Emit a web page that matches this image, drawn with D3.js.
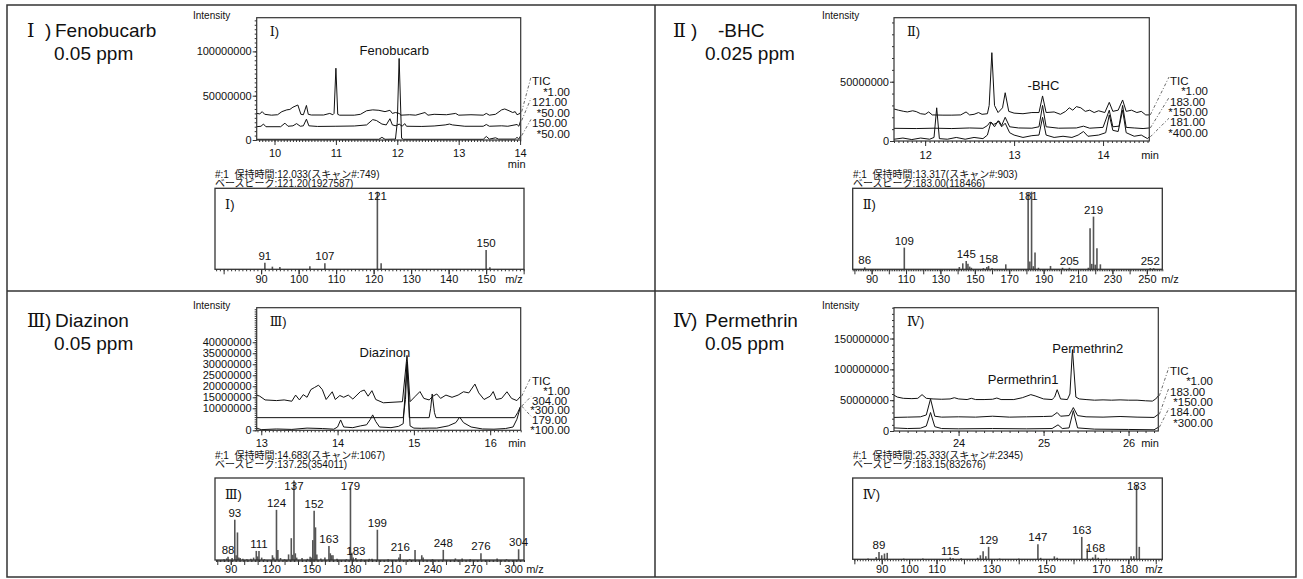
<!DOCTYPE html>
<html>
<head>
<meta charset="utf-8">
<script src="https://cdn.jsdelivr.net/npm/d3@7"></script>
<style>
body { margin: 0; background: #fff; }
svg text { font-family: "Liberation Sans", Arial, "Noto Sans CJK JP", sans-serif; fill: #111; }
.rn { font-family: "Liberation Serif", "DejaVu Serif", serif; }
</style>
</head>
<body>
<svg id="chart" width="1303" height="579"></svg>
<script>
const MEGA = 1e6;

// chromatogram traces: [retention time (min), intensity (x1e6)]
const fenoTIC = [[9.71,30],[9.76,29.5],[9.8,32],[9.84,29],[9.95,28],[10.05,28.5],[10.12,32],[10.2,34],[10.25,34.5],[10.3,37],[10.38,39.5],[10.43,29],[10.47,28.5],[10.52,39],[10.55,29],[10.6,28.2],[10.8,28.2],[10.9,30],[10.95,28.5],[10.97,30],[11.0,81],[11.03,29],[11.06,28],[11.3,28],[11.4,29],[11.5,33],[11.6,34],[11.7,33.5],[11.8,32],[11.88,33.5],[11.92,30],[11.97,31],[12.03,30],[12.06,28],[12.2,28.5],[12.3,28],[12.45,31],[12.5,28],[12.6,29],[12.8,28.5],[12.95,30],[13.0,28],[13.2,28.5],[13.4,28],[13.45,30],[13.5,28],[13.6,29],[13.7,34],[13.75,35],[13.82,33],[13.88,31],[13.92,32],[13.95,28.5],[14.0,30],[14.01,32]];
const feno121 = [[9.71,15],[9.78,15.5],[9.82,18],[9.86,15],[10.1,15],[10.17,19],[10.22,15.5],[10.3,16],[10.36,18.5],[10.42,15.5],[10.47,16],[10.52,23.5],[10.56,16],[10.7,15.3],[11.0,15.5],[11.3,15.8],[11.5,17],[11.6,23],[11.66,22],[11.75,18],[11.82,17],[11.88,24],[11.92,17],[11.98,16],[12.03,18],[12.08,15.5],[12.12,18.5],[12.15,15.5],[12.4,15.3],[12.6,15.8],[12.78,17],[12.85,18],[12.9,17],[13.1,15.5],[13.4,15.5],[13.45,17.5],[13.5,15.5],[13.7,16],[13.8,15.5],[13.95,17.5],[13.98,15.5],[14.01,22]];
const feno150 = [[9.71,0.8],[11.7,0.8],[11.75,3],[11.8,0.8],[11.97,1],[12.0,20],[12.03,92],[12.07,2],[12.1,0.8],[13.4,0.8],[13.45,4],[13.5,1],[13.6,2.5],[13.65,1],[13.92,1],[13.95,3],[13.98,1],[14.01,5]];

const bhcTIC = [[11.65,27],[11.7,26],[11.76,25],[11.8,24.5],[11.86,25.5],[11.9,24.8],[11.95,23],[12.0,22.5],[12.04,24.5],[12.08,22],[12.2,21.8],[12.3,21.8],[12.4,22],[12.46,24.5],[12.5,22],[12.55,22.5],[12.6,24],[12.64,22.5],[12.7,23],[12.72,30],[12.75,74.5],[12.78,30],[12.82,24],[12.87,28],[12.9,40.7],[12.94,25],[13.0,23.5],[13.1,23],[13.2,24],[13.28,24],[13.32,38],[13.36,24],[13.45,24.5],[13.52,22.5],[13.58,25],[13.62,28],[13.66,26],[13.7,29],[13.75,28],[13.8,25],[13.85,26],[13.9,24],[13.95,25.5],[14.02,24],[14.07,32.6],[14.11,25],[14.17,26],[14.22,34.6],[14.26,25],[14.32,26],[14.38,24],[14.43,25],[14.48,22],[14.52,22]];
const bhc183 = [[11.65,10.7],[11.9,10.5],[12.1,10.8],[12.3,10.5],[12.5,11],[12.65,10.7],[12.7,13],[12.73,16],[12.77,14],[12.8,15],[12.83,17],[12.86,13],[12.9,20],[12.95,12],[13.05,11],[13.2,10.8],[13.28,12],[13.32,30],[13.36,12],[13.5,10.8],[13.7,11],[13.78,12.5],[13.85,10.8],[14.0,11.5],[14.07,26],[14.11,12],[14.18,12.5],[14.22,30],[14.26,11.5],[14.35,11],[14.45,10.5],[14.52,11]];
const bhc181 = [[11.65,1.5],[11.75,2.5],[11.85,1.2],[11.95,2.5],[12.05,1.5],[12.1,3],[12.13,28],[12.16,2],[12.25,1.5],[12.35,3],[12.45,1.5],[12.55,3],[12.65,2],[12.7,5],[12.74,16],[12.78,12],[12.82,17],[12.86,12],[12.9,15],[12.95,7],[13.0,5],[13.1,3],[13.2,4.5],[13.28,5],[13.32,20],[13.36,5],[13.45,3],[13.55,4],[13.65,3],[13.72,5],[13.78,8],[13.83,4],[13.95,5],[14.03,7],[14.07,22],[14.11,9],[14.17,8],[14.22,26],[14.26,7],[14.35,4],[14.43,5],[14.5,2],[14.52,3.5]];

const diazTIC = [[12.94,16],[12.98,15.5],[13.05,13.8],[13.2,13.5],[13.3,13.8],[13.4,13.2],[13.45,16],[13.5,13.8],[13.55,16.2],[13.6,15],[13.65,18.5],[13.7,19.5],[13.75,20.5],[13.8,18.5],[13.85,14],[13.93,17.5],[13.97,14],[14.03,15.8],[14.08,15],[14.14,16],[14.2,14.2],[14.3,17.6],[14.35,18.3],[14.4,15.5],[14.45,18],[14.5,14],[14.6,12.5],[14.85,13],[14.91,34],[14.95,13],[15.02,15.5],[15.08,17.6],[15.13,14.5],[15.2,13.8],[15.25,15.5],[15.3,16.5],[15.35,14.5],[15.42,16],[15.5,15],[15.58,16],[15.65,17.5],[15.72,17],[15.8,21],[15.85,17],[15.92,14],[16.0,15.5],[16.04,17.6],[16.08,14],[16.15,14.5],[16.22,17.5],[16.28,14.5],[16.35,13.5],[16.4,15.5]];
const diaz304 = [[12.94,5.75],[14.86,5.75],[14.89,14],[14.91,30],[14.94,5.75],[15.2,5.75],[15.22,10],[15.24,16.5],[15.27,8],[15.29,5.75],[16.32,5.75],[16.36,8],[16.4,11]];
const diaz179 = [[12.94,1],[13.0,0.3],[13.2,0.6],[13.4,0.4],[13.6,1.0],[13.8,0.8],[13.95,0.5],[14.0,1.5],[14.04,4.7],[14.08,1.5],[14.2,1.2],[14.3,2],[14.38,2.5],[14.43,5],[14.46,7],[14.5,4],[14.55,1.5],[14.7,1.2],[14.8,1.8],[14.86,3],[14.91,31],[14.95,2],[15.0,1],[15.1,0.9],[15.2,1],[15.3,1],[15.45,2],[15.55,3.5],[15.6,6],[15.65,3.5],[15.75,1.5],[15.9,0.6],[16.05,0.5],[16.2,0.8],[16.3,1.5],[16.35,5],[16.4,11]];

const permTIC = [[23.24,58],[23.28,55],[23.35,53],[23.45,52.5],[23.52,53],[23.57,59],[23.62,53],[23.7,52],[23.8,51.5],[23.9,52],[23.95,54],[24.0,52],[24.1,51],[24.15,53],[24.2,51],[24.3,51],[24.4,51.5],[24.45,53.5],[24.5,51],[24.65,51],[24.75,54],[24.85,59],[24.9,57],[25.0,52],[25.1,51],[25.13,55],[25.16,67],[25.2,52],[25.28,51],[25.31,60],[25.34,132],[25.38,55],[25.42,52],[25.5,51],[25.6,50],[25.7,50.5],[25.8,50],[25.9,50.5],[26.0,50],[26.1,50],[26.2,49],[26.28,48.5],[26.32,52],[26.35,57]];
const perm183 = [[23.24,22],[23.4,22.5],[23.55,23],[23.62,26],[23.67,52],[23.72,24],[23.8,22.5],[24.0,23],[24.2,22.5],[24.4,24],[24.6,22.5],[24.8,23],[25.0,23.5],[25.1,24],[25.16,30],[25.2,24],[25.3,25],[25.35,38],[25.4,25],[25.5,23],[25.7,22.5],[25.9,23.5],[26.1,22.5],[26.3,22],[26.35,27]];
const perm184 = [[23.24,5],[23.4,4],[23.55,4.5],[23.62,8],[23.67,30],[23.72,7],[23.8,4],[24.0,3.5],[24.4,4],[24.8,3.5],[25.1,4],[25.17,10],[25.22,4],[25.3,5],[25.35,33],[25.4,5],[25.6,3],[26.0,2.5],[26.3,2],[26.35,6]];

// trace names / scale factors shown right of each chromatogram
const fenoTraceNames = ['TIC', '*1.00', '121.00', '*50.00', '150.00', '*50.00'];
const bhcTraceNames = ['TIC', '*1.00', '183.00', '*150.00', '181.00', '*400.00'];
const diazTraceNames = ['TIC', '*1.00', '304.00', '*300.00', '179.00', '*100.00'];
const permTraceNames = ['TIC', '*1.00', '183.00', '*150.00', '184.00', '*300.00'];

// mass spectra: [m/z, relative intensity %]
const fenoSpec = [[91,8.6],[93,3.4],[95,3],[103,4],[107,7.7],[121,100],[122,7.7],[150,25],[151,2.6]];
const bhcSpec = [[86,2.6],[109,28],[141,3],[143,7.7],[145,10.7],[146,7],[147,3.5],[148,2],[155,1.5],[157,3],[158,4.3],[160,1.5],[168,6.4],[181,98],[182,10],[183,100],[184,4],[185,21.5],[187,2],[194,4.3],[201,2],[205,2],[216,2],[217,52.8],[218,7],[219,67.9],[220,6],[221,27],[223,6.4],[252,1.5],[254,1.5]];
const diazSpec = [[85,1],[87,2],[88,4],[91,2.5],[93,50.6],[94,6],[95,34.6],[96,3],[97,2.5],[99,1.5],[102,1],[105,1.5],[107,3],[109,11.4],[110,4.5],[111,11.4],[113,3],[115,1],[121,6],[122,3],[124,63],[125,12.7],[127,2.5],[130,1],[133,7],[135,27.4],[136,6.5],[137,100],[138,8.4],[139,3],[143,2.5],[147,1.5],[149,4],[150,3],[151,25],[152,62],[153,41],[154,7],[157,2],[160,3],[163,17.7],[164,8.4],[165,6],[166,6],[169,1.5],[176,1],[179,91],[180,9],[181,3],[183,2.5],[187,1],[193,1.5],[195,1.5],[199,38],[207,1],[215,3],[216,7.6],[223,1],[227,12.7],[232,6],[233,3],[240,1],[248,12.7],[257,2],[262,2],[268,1],[276,8.4],[288,2],[295,1],[304,13.5]];
const permSpec = [[85,1],[88,3],[89,9.9],[90,5.4],[91,7.7],[92,8.6],[98,1],[105,1],[115,2.3],[116,1.5],[119,1.5],[125,2],[126,5.4],[127,10.8],[128,4],[129,16.7],[133,1],[140,1],[147,20.3],[148,2],[153,4],[154,2],[163,30],[165,14.4],[167,2.5],[168,6.3],[169,2],[172,1],[181,4],[182,4],[183,100],[184,16.7]];

const fenoPeakLabels = [91, 107, 121, 150];
const bhcPeakLabels = [86, 109, 145, 158, 181, 205, 219, 252];
const diazPeakLabels = [88, 93, 111, 124, 137, 152, 163, 179, 183, 199, 216, 248, 276, 304];
const permPeakLabels = [89, 115, 129, 147, 163, 168, 183];

// axis ticks
const fenoTimeTicks = [10, 11, 12, 13, 14];
const bhcTimeTicks = [12, 13, 14];
const diazTimeTicks = [13, 14, 15, 16];
const permTimeTicks = [24, 25, 26];
const fenoIntTicks = [0, 50000000, 100000000];
const bhcIntTicks = [0, 50000000];
const diazIntTicks = [0, 10000000, 15000000, 20000000, 25000000, 30000000, 35000000, 40000000];
const permIntTicks = [0, 50000000, 100000000, 150000000];
const fenoMzTicks = [90, 100, 110, 120, 130, 140, 150];
const bhcMzTicks = [90, 110, 130, 150, 170, 190, 210, 230, 250];
const diazMzTicks = [90, 120, 150, 180, 210, 240, 270, 300];
const permMzTicks = [90, 100, 110, 130, 150, 170, 180];

const panels = [
  {
    numeral: 'Ⅰ', name: 'Fenobucarb', ppm: '0.05 ppm', titleX: 27, nameX: 55, ppmX: 54, titleY: 37,
    traces: [fenoTIC, feno121, feno150], traceNames: fenoTraceNames,
    tDomain: [9.71, 14.01], iMax: 138e6, tTicks: fenoTimeTicks, iTicks: fenoIntTicks, tMinor: 0.05, iMinor: 5e6,
    peakNames: [['Fenobucarb', 11.95, 95.9]], tPad: 4.5,
    chrom: { left: 256.7, right: 520.7, top: 17.7, bottom: 140 },
    intensityXY: [193, 19], minXY: [516.7, 167.5], labelX: 532, labelRight: 570, labelTop: 85, labelGap: 10.6,
    info: ['#:1  保持時間:12.033(スキャン#:749)', 'ベースピーク:121.20(1927587)'], infoXY: [215, 177.5],
    spec: fenoSpec, specLabels: fenoPeakLabels, mzDomain: [77.7, 160.1], relMax: 104.4, mzTicks: fenoMzTicks,
    specBox: { left: 215, right: 524, top: 188.3, bottom: 269.3 }, mzXY: [514, 282.7], mzPad: 1
  },
  {
    numeral: 'Ⅱ', name: '-BHC', ppm: '0.025 ppm', titleX: 673, nameX: 718, ppmX: 705, titleY: 37,
    traces: [bhcTIC, bhc183, bhc181], traceNames: bhcTraceNames,
    tDomain: [11.65, 14.52], iMax: 104e6, tTicks: bhcTimeTicks, iTicks: bhcIntTicks, tMinor: 0.05, iMinor: 10e6,
    peakNames: [['-BHC', 13.33, 42.6]], tPad: 5,
    chrom: { left: 894, right: 1149.3, top: 17.7, bottom: 141 },
    intensityXY: [822, 19], minXY: [1150, 158.5], labelX: 1170, labelRight: 1208, labelTop: 85, labelGap: 10.3,
    info: ['#:1  保持時間:13.317(スキャン#:903)', 'ベースピーク:183.00(118466)'], infoXY: [853, 177.5],
    spec: bhcSpec, specLabels: bhcPeakLabels, mzDomain: [79, 259], relMax: 104.4, mzTicks: bhcMzTicks,
    specBox: { left: 852.7, right: 1162.3, top: 188.3, bottom: 269.3 }, mzXY: [1170, 282.7], mzPad: 1
  },
  {
    numeral: 'Ⅲ', name: 'Diazinon', ppm: '0.05 ppm', titleX: 27, nameX: 55, ppmX: 54, titleY: 327,
    traces: [diazTIC, diaz304, diaz179], traceNames: diazTraceNames,
    tDomain: [12.94, 16.4], iMax: 55.7e6, tTicks: diazTimeTicks, iTicks: diazIntTicks, tMinor: 0.05, iMinor: 1e6,
    peakNames: [['Diazinon', 14.62, 33.5]], tPad: 3.5,
    chrom: { left: 256.7, right: 520.7, top: 307.7, bottom: 430.3 },
    intensityXY: [193, 309], minXY: [517, 446.5], labelX: 532, labelRight: 570, labelTop: 385, labelGap: 9.8,
    info: ['#:1  保持時間:14.683(スキャン#:1067)', 'ベースピーク:137.25(354011)'], infoXY: [215, 458.5],
    spec: diazSpec, specLabels: diazPeakLabels, mzDomain: [78.3, 308], relMax: 103, mzTicks: diazMzTicks,
    specBox: { left: 215, right: 524, top: 478, bottom: 560 }, mzXY: [535, 573], mzPad: 0.5
  },
  {
    numeral: 'Ⅳ', name: 'Permethrin', ppm: '0.05 ppm', titleX: 673, nameX: 705, ppmX: 705, titleY: 327,
    traces: [permTIC, perm183, perm184], traceNames: permTraceNames,
    tDomain: [23.24, 26.35], iMax: 200e6, tTicks: permTimeTicks, iTicks: permIntTicks, tMinor: 0.1, iMinor: 10e6,
    peakNames: [['Permethrin1', 24.76, 76], ['Permethrin2', 25.52, 126.5]], tPad: 3.5,
    chrom: { left: 894, right: 1158.3, top: 307.7, bottom: 431 },
    intensityXY: [822, 309], minXY: [1150, 446.5], labelX: 1170, labelRight: 1213, labelTop: 375, labelGap: 10.3,
    info: ['#:1  保持時間:25.333(スキャン#:2345)', 'ベースピーク:183.15(832676)'], infoXY: [853, 458.5],
    spec: permSpec, specLabels: permPeakLabels, mzDomain: [79.4, 192.4], relMax: 109, mzTicks: permMzTicks,
    specBox: { left: 852.7, right: 1162.3, top: 478, bottom: 559.3 }, mzXY: [1154, 573], mzPad: 0.5
  }
];

const svg = d3.select('#chart');

// table grid
svg.append('rect').attr('x', 7).attr('y', 5).attr('width', 1289).attr('height', 572)
  .attr('fill', 'none').attr('stroke', '#333').attr('stroke-width', 1.5);
svg.append('line').attr('x1', 655).attr('x2', 655).attr('y1', 5).attr('y2', 577)
  .attr('stroke', '#333').attr('stroke-width', 1.5);
svg.append('line').attr('x1', 7).attr('x2', 1296).attr('y1', 291).attr('y2', 291)
  .attr('stroke', '#333').attr('stroke-width', 1.5);

function stepsIn(lo, hi, step) {
  return d3.range(Math.ceil(lo / step - 1e-6), Math.floor(hi / step + 1e-6) + 1).map(i => +(i * step).toFixed(6));
}

function styleAxis(a, size) {
  a.attr('font-family', null).attr('font-size', null);
  a.select('.domain').remove();
  a.selectAll('line').attr('stroke', '#333');
  a.selectAll('text').style('font-size', size + 'px').attr('fill', '#111');
}

panels.forEach((p, pi) => {
  const g = svg.append('g');

  // big title
  const title = g.append('text').attr('y', p.titleY).style('font-size', '19px');
  title.append('tspan').attr('class', 'rn').attr('x', p.titleX).text(p.numeral);
  title.append('tspan').attr('x', p.titleX + 18).text(')');
  title.append('tspan').attr('x', p.nameX).text(p.name);
  g.append('text').attr('x', p.ppmX).attr('y', p.titleY + 23).style('font-size', '19px').text(p.ppm);

  // ---- chromatogram ----
  const c = p.chrom;
  const x = d3.scaleLinear().domain(p.tDomain).range([c.left, c.right]);
  const y = d3.scaleLinear().domain([0, p.iMax]).range([c.bottom, c.top]);

  g.append('text').attr('x', p.intensityXY[0]).attr('y', p.intensityXY[1])
    .style('font-size', '10px').text('Intensity');

  const xMinor = g.append('g').attr('transform', `translate(0,${c.bottom})`)
    .call(d3.axisBottom(x).tickValues(stepsIn(p.tDomain[0], p.tDomain[1], p.tMinor)).tickSize(2).tickFormat(''));
  styleAxis(xMinor, 11);
  const xAxis = g.append('g').attr('transform', `translate(0,${c.bottom})`)
    .call(d3.axisBottom(x).tickValues(p.tTicks).tickSize(5).tickPadding(p.tPad).tickFormat(d3.format('d')));
  styleAxis(xAxis, 11);

  const yMinor = g.append('g').attr('transform', `translate(${c.left},0)`)
    .call(d3.axisLeft(y).tickValues(stepsIn(0, p.iMax, p.iMinor)).tickSize(2).tickFormat(''));
  styleAxis(yMinor, 11);
  const yAxis = g.append('g').attr('transform', `translate(${c.left},0)`)
    .call(d3.axisLeft(y).tickValues(p.iTicks).tickSize(4).tickPadding(1).tickFormat(d3.format('d')));
  styleAxis(yAxis, 11);

  g.append('text').attr('x', p.minXY[0]).attr('y', p.minXY[1]).attr('text-anchor', 'middle')
    .style('font-size', '11px').text('min');

  const clipId = 'clip' + pi;
  g.append('clipPath').attr('id', clipId).append('rect')
    .attr('x', c.left).attr('y', c.top).attr('width', c.right - c.left).attr('height', c.bottom - c.top);

  const line = d3.line().x(d => x(d[0])).y(d => y(d[1] * MEGA));
  g.append('g').attr('clip-path', `url(#${clipId})`)
    .selectAll('path').data(p.traces).join('path')
    .attr('d', line).attr('fill', 'none').attr('stroke', '#111').attr('stroke-width', 1)
    .attr('stroke-linejoin', 'round');

  g.append('rect').attr('x', c.left).attr('y', c.top)
    .attr('width', c.right - c.left).attr('height', c.bottom - c.top)
    .attr('fill', 'none').attr('stroke', '#333').attr('stroke-width', 1.2);

  g.append('text').attr('x', c.left + 13).attr('y', c.top + 18.5).style('font-size', '13px')
    .call(t => {
      t.append('tspan').attr('class', 'rn').text(p.numeral);
      t.append('tspan').text(')');
    });

  p.peakNames.forEach(([txt, t, v]) => {
    g.append('text').attr('x', x(t)).attr('y', y(v * MEGA)).attr('text-anchor', 'middle')
      .style('font-size', '13px').text(txt);
  });

  // trace labels with dash-dot leader lines
  p.traceNames.forEach((txt, i) => {
    const by = p.labelTop + i * p.labelGap;
    const isName = i % 2 === 0;
    g.append('text').attr('x', isName ? p.labelX : p.labelRight).attr('y', by)
      .attr('text-anchor', isName ? 'start' : 'end').style('font-size', '11.5px').text(txt);
    if (isName) {
      const tr = p.traces[i / 2];
      const last = tr[tr.length - 1];
      g.append('line').attr('x1', c.right + 1).attr('y1', y(last[1] * MEGA))
        .attr('x2', p.labelX - 1).attr('y2', by - 8)
        .attr('stroke', '#444').attr('stroke-width', 0.8).attr('stroke-dasharray', '3,2,1,2');
    }
  });

  // ---- scan info ----
  p.info.forEach((txt, i) => {
    g.append('text').attr('x', p.infoXY[0]).attr('y', p.infoXY[1] + i * 9)
      .style('font-size', '10px').style('white-space', 'pre').text(txt);
  });

  // ---- mass spectrum ----
  const s = p.specBox;
  const sx = d3.scaleLinear().domain(p.mzDomain).range([s.left, s.right]);
  const sy = d3.scaleLinear().domain([0, p.relMax]).range([s.bottom, s.top]);

  const mzMinor = g.append('g').attr('transform', `translate(0,${s.bottom})`)
    .call(d3.axisBottom(sx).tickValues(stepsIn(p.mzDomain[0], p.mzDomain[1], 1)).tickSize(2).tickFormat(''));
  styleAxis(mzMinor, 11);
  const mzMajor = g.append('g').attr('transform', `translate(0,${s.bottom})`)
    .call(d3.axisBottom(sx).tickValues(stepsIn(p.mzDomain[0], p.mzDomain[1], 10)).tickSize(5).tickFormat(''));
  styleAxis(mzMajor, 11);
  const mzAxis = g.append('g').attr('transform', `translate(0,${s.bottom})`)
    .call(d3.axisBottom(sx).tickValues(p.mzTicks).tickSize(5).tickPadding(p.mzPad).tickFormat(d3.format('d')));
  styleAxis(mzAxis, 11);

  g.append('text').attr('x', p.mzXY[0]).attr('y', p.mzXY[1]).attr('text-anchor', 'middle')
    .style('font-size', '11px').text('m/z');

  g.append('g').selectAll('line').data(p.spec).join('line')
    .attr('x1', d => sx(d[0])).attr('x2', d => sx(d[0]))
    .attr('y1', sy(0)).attr('y2', d => sy(d[1]))
    .attr('stroke', '#555').attr('stroke-width', 1.6);

  g.append('rect').attr('x', s.left).attr('y', s.top)
    .attr('width', s.right - s.left).attr('height', s.bottom - s.top)
    .attr('fill', 'none').attr('stroke', '#333').attr('stroke-width', 1.3);

  g.append('text').attr('x', s.left + 10).attr('y', s.top + 20.5).style('font-size', '13px')
    .call(t => {
      t.append('tspan').attr('class', 'rn').text(p.numeral);
      t.append('tspan').text(')');
    });

  const heights = new Map(p.spec);
  g.append('g').selectAll('text').data(p.specLabels).join('text')
    .attr('x', d => sx(d)).attr('y', d => Math.max(sy(heights.get(d)) - 3, s.top + 11.5))
    .attr('text-anchor', 'middle').style('font-size', '11.5px').text(d => d);
});
</script>
</body>
</html>
